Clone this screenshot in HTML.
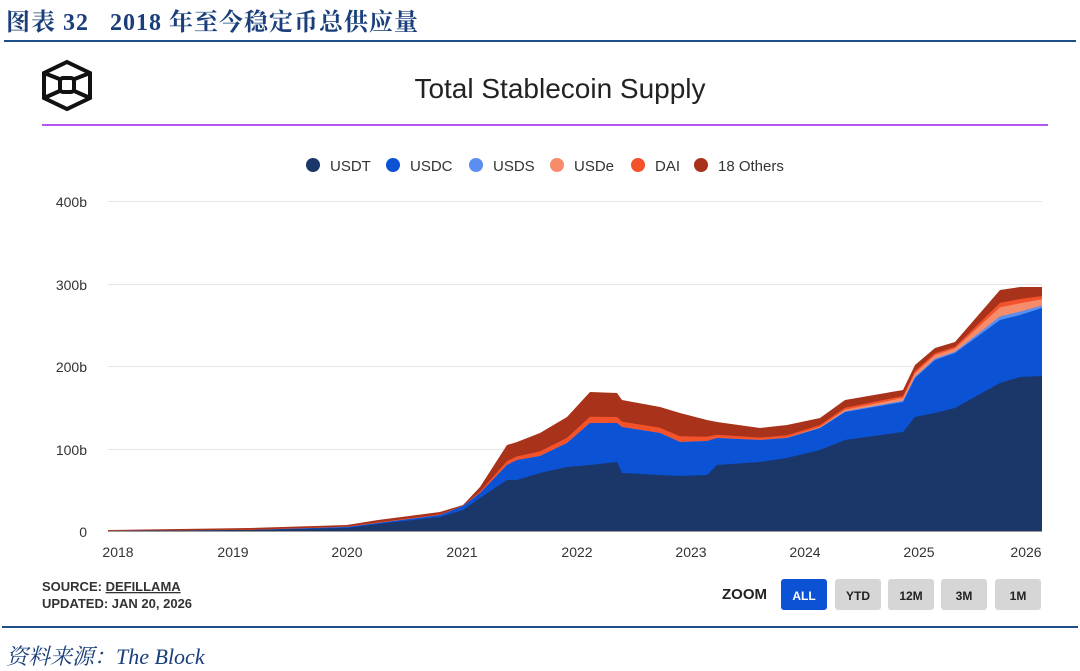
<!DOCTYPE html><html><head><meta charset="utf-8"><style>
body{margin:0;width:1080px;height:666px;background:#fff;overflow:hidden;position:relative;font-family:"Liberation Sans",sans-serif}
.t{position:absolute;left:6px;top:2px;font:bold 24px "Liberation Serif","Noto Serif CJK SC",serif;color:#1a3f7a;letter-spacing:1px}
</style></head><body>
<div class="t">图表 32&nbsp;&nbsp;&nbsp;2018 年至今稳定币总供应量</div>
<div style="position:absolute;left:4px;top:40px;width:1072px;height:2px;background:#1f4f8a"></div>
<div style="position:absolute;left:2px;top:626px;width:1076px;height:2px;background:#1f4f8a"></div>
<div style="position:absolute;left:6px;top:640px;font:italic 22px 'Liberation Serif','Noto Serif CJK SC',serif;color:#1a3f7a">资料来源：The Block</div>
<svg width="1080" height="666" style="position:absolute;left:0;top:0" id="s">
<g fill="none" stroke="#111" stroke-width="4"><path d="M67 62 L90 73 L90 98 L67 109 L44 98 L44 73Z"/><path d="M44 73 L62 80 M90 73 L72 80 M44 98 L62 90 M90 98 L72 90"/><rect x="60" y="78" width="14" height="14" rx="3"/></g>
<text x="560" y="98" font-size="28" text-anchor="middle" fill="#222">Total Stablecoin Supply</text>
<rect x="42" y="124" width="1006" height="2" fill="#b554f0"/>
<g font-size="15" fill="#333">
<circle cx="313" cy="165" r="7" fill="#1b3668"/><text x="330" y="171">USDT</text>
<circle cx="393" cy="165" r="7" fill="#0b52d4"/><text x="410" y="171">USDC</text>
<circle cx="476" cy="165" r="7" fill="#5a8ef0"/><text x="493" y="171">USDS</text>
<circle cx="557" cy="165" r="7" fill="#f78c6b"/><text x="574" y="171">USDe</text>
<circle cx="638" cy="165" r="7" fill="#f3522a"/><text x="655" y="171">DAI</text>
<circle cx="701" cy="165" r="7" fill="#a8321a"/><text x="718" y="171">18 Others</text>
</g>
<g stroke="#e6e6e6" stroke-width="1"><line x1="108" x2="1042" y1="201.5" y2="201.5"/><line x1="108" x2="1042" y1="284.5" y2="284.5"/><line x1="108" x2="1042" y1="366.5" y2="366.5"/><line x1="108" x2="1042" y1="449.5" y2="449.5"/></g>
<g font-size="14" fill="#333" text-anchor="end"><text x="87" y="207">400b</text><text x="87" y="290">300b</text><text x="87" y="372">200b</text><text x="87" y="455">100b</text><text x="87" y="537">0</text></g>
<g id="areas"></g>
<line x1="108" x2="1042" y1="531.5" y2="531.5" stroke="#999"/>
<g font-size="14" fill="#333" text-anchor="middle"><text x="118" y="557">2018</text><text x="233" y="557">2019</text><text x="347" y="557">2020</text><text x="462" y="557">2021</text><text x="577" y="557">2022</text><text x="691" y="557">2023</text><text x="805" y="557">2024</text><text x="919" y="557">2025</text><text x="1026" y="557">2026</text></g>
<g font-weight="bold" font-size="13" fill="#333"><text x="42" y="591">SOURCE: <tspan text-decoration="underline">DEFILLAMA</tspan></text><text x="42" y="608">UPDATED: JAN 20, 2026</text></g>
<text x="722" y="599" font-size="15" font-weight="bold" fill="#222">ZOOM</text>
<g font-size="12" font-weight="bold" text-anchor="middle">
<rect x="781" y="579" width="46" height="31" rx="3" fill="#0b52d4"/><text x="804" y="600" fill="#fff">ALL</text>
<rect x="835" y="579" width="46" height="31" rx="3" fill="#d6d6d6"/><text x="858" y="600" fill="#222">YTD</text>
<rect x="888" y="579" width="46" height="31" rx="3" fill="#d6d6d6"/><text x="911" y="600" fill="#222">12M</text>
<rect x="941" y="579" width="46" height="31" rx="3" fill="#d6d6d6"/><text x="964" y="600" fill="#222">3M</text>
<rect x="995" y="579" width="46" height="31" rx="3" fill="#d6d6d6"/><text x="1018" y="600" fill="#222">1M</text>
</g>
</svg>
<script>
var P=[[108,531,531,530],[250,530,530,528],[347,528,527,525],[378,524,523,520],[440,517,515,512],[463,510,506,505],[480,498,493,487],[507,480,465,445],[517,480,460,442],[540,473,456,433],[567,467,443,417],[590,465,423,392],[617,462,423,393],[622,473,427,400],[660,475,433,407],[680,476,442,413],[707,475,441,420],[717,465,438,422],[760,462,440,428],[787,458,438,425],[820,450,428,418],[845,440,412,400],[903,432,402,390],[915,417,378,365],[935,413,360,348],[955,408,353,342],[1000,383,320,290],[1020,377,315,287],[1042,376,308,287]];
function L(x,u,c,t){var g=c-t;var k=Math.max(0,Math.min(1,(x-780)/150));
var s=c-g*0.12*k,e=s-g*0.3*k,d=e-g*(0.2-0.05*k);return [u,c,s,e,d,t];}
var R=P.map(p=>[p[0]].concat(L(p[0],p[1],p[2],p[3])));
var cols=["#1b3668","#0b52d4","#5a8ef0","#f78c6b","#f3522a","#a8321a"],h="";
for(var i=5;i>=0;i--){var d="M108 531 "+R.map(r=>"L"+r[0]+" "+r[i+1].toFixed(1)).join(" ")+" L1042 531Z";h+='<path d="'+d+'" fill="'+cols[i]+'"/>';}
document.getElementById("areas").innerHTML=h;
</script>
</body></html>
